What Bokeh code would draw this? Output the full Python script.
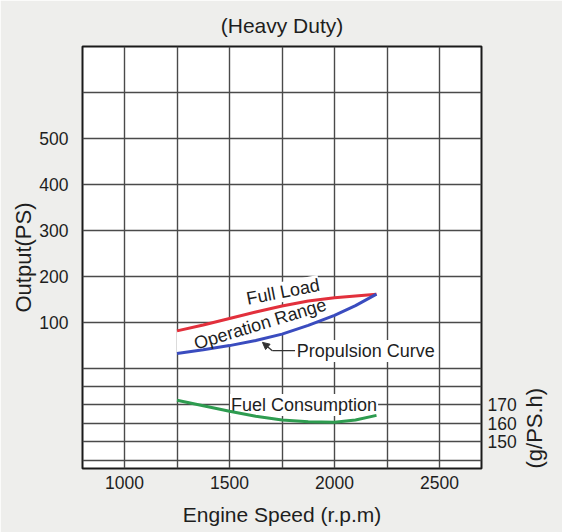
import math
from bokeh.plotting import figure
from bokeh.models import (Range1d, LinearAxis, FixedTicker, Grid, Label, Arrow,
                          NormalHead, ColumnDataSource, Title)
from bokeh.embed import file_html
from bokeh.resources import INLINE

# ---- data ----
rpm = [1250, 1375, 1500, 1625, 1750, 1875, 2000, 2100, 2200]
full_load = [81, 94, 108, 122, 135, 146, 153, 157, 161]
propulsion = [32, 40, 49, 60, 74, 93, 115, 136, 161]
fuel = [172.5, 169.5, 166.5, 163.8, 161.8, 160.8, 160.6, 161.8, 164.3]

x_ticks = [1000, 1500, 2000, 2500]
x_grid = [1000, 1250, 1500, 1750, 2000, 2250, 2500]
out_ticks = [100, 200, 300, 400, 500]
out_grid = [0, 100, 200, 300, 400, 500, 600]
fuel_ticks = [150, 160, 170]
fuel_grid = [140, 150, 160, 170, 180]

FONT = "Liberation Sans"
TXT = "#1e1e1e"

p = figure(width=562, height=532, output_backend="svg", toolbar_location=None,
           x_range=Range1d(800, 2700), y_range=Range1d(-218.5, 700),
           min_border_left=82, min_border_right=80, min_border_top=46,
           min_border_bottom=64)
p.extra_y_ranges = {"fuel": Range1d(135.4, 365)}

p.background_fill_color = "white"
p.border_fill_color = "#eeeeec"
p.outline_line_color = "#1a1a1a"
p.outline_line_width = 2

p.title = Title(text="(Heavy Duty)", align="center", text_font=FONT,
                text_font_size="21px", text_font_style="normal",
                text_color=TXT, standoff=19)

# grids
p.xgrid.ticker = FixedTicker(ticks=x_grid)
p.ygrid.ticker = FixedTicker(ticks=out_grid)
for g in (p.xgrid, p.ygrid):
    g.grid_line_color = "#4a4a4a"
    g.grid_line_width = 1.4
    g.grid_line_alpha = 1
fg = Grid(dimension=1, ticker=FixedTicker(ticks=fuel_grid), y_range_name="fuel",
          grid_line_color="#4a4a4a", grid_line_width=1.4)
p.add_layout(fg)

def style_axis(ax, size="17.5px"):
    ax.axis_line_color = None
    ax.major_tick_line_color = None
    ax.minor_tick_line_color = None
    ax.major_label_text_font = FONT
    ax.major_label_text_font_size = size
    ax.major_label_text_color = TXT
    ax.axis_label_text_font = FONT
    ax.axis_label_text_font_style = "normal"
    ax.axis_label_text_color = TXT

xa = p.xaxis[0]
xa.ticker = FixedTicker(ticks=x_ticks)
style_axis(xa)
xa.major_label_standoff = 1
xa.axis_label = "Engine Speed (r.p.m)"
xa.axis_label_text_font_size = "21px"
xa.axis_label_standoff = 11

ya = p.yaxis[0]
ya.ticker = FixedTicker(ticks=out_ticks)
style_axis(ya)
ya.major_label_standoff = 8
ya.axis_label = "Output(PS)"
ya.axis_label_text_font_size = "22px"
ya.axis_label_standoff = 0

ra = LinearAxis(y_range_name="fuel", ticker=FixedTicker(ticks=fuel_ticks),
                axis_label="(g/PS.h)")
style_axis(ra)
ra.major_label_standoff = 0
ra.axis_label_text_font_size = "22px"
ra.axis_label_standoff = 15
ra.axis_label_orientation = math.pi / 2
try:
    ra.axis_label_align = "start"
except Exception:
    pass
p.add_layout(ra, "right")

src = ColumnDataSource(dict(rpm=rpm, full=full_load, prop=propulsion, fuel=fuel))

def lab(**kw):
    base = dict(text_font=FONT, text_font_size="18px", text_color=TXT,
                text_baseline="middle")
    base.update(kw)
    return Label(**base)

# white-backed labels sit on the grid but under the curves
p.add_layout(lab(x=1855, y=170, y_range_name="fuel", text="Fuel Consumption",
                 text_align="center", background_fill_color="white",
                 padding=1, level="underlay"))
p.add_layout(lab(x=1815, y=37, text="Propulsion Curve", text_align="left",
                 background_fill_color="white", padding=1, level="underlay"))
p.add_layout(lab(x=1755, y=166, text="Full Load", angle=11, angle_units="deg",
                 text_align="center", background_fill_color="white", padding=0,
                 level="underlay"))

# operation range (white fill hides grid)
p.varea(x="rpm", y1="prop", y2="full", source=src, fill_color="white")
p.line(x="rpm", y="full", source=src, line_color="#e2303c", line_width=3)
p.line(x="rpm", y="prop", source=src, line_color="#3a4cbf", line_width=3)
p.line(x="rpm", y="fuel", source=src, y_range_name="fuel",
       line_color="#2e9c50", line_width=3)

p.add_layout(lab(x=1646, y=96, text="Operation Range", angle=17, angle_units="deg",
                 text_align="center"))

p.segment(x0=[1704], y0=[38], x1=[1812], y1=[38], line_color="#333333", line_width=1.3)
p.add_layout(Arrow(x_start=1704, y_start=38, x_end=1657, y_end=56,
                   line_color="#333333", line_width=1.3,
                   end=NormalHead(size=7, fill_color="#333333", line_color="#333333")))

open("out.html", "w").write(file_html(p, INLINE))
